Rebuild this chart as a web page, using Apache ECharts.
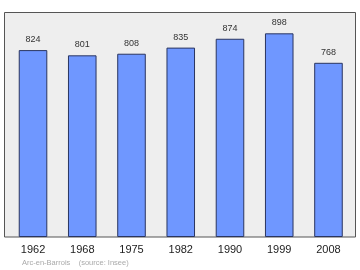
<!DOCTYPE html>
<html><head><meta charset="utf-8">
<script src="https://cdn.jsdelivr.net/npm/echarts@6/dist/echarts.min.js"></script>
<style>html,body{margin:0;padding:0;background:#fff}#c{width:360px;height:270px}</style>
</head><body><div id="c"></div>
<script>
var categories = ['1962','1968','1975','1982','1990','1999','2008'];
var population = [824, 801, 808, 835, 874, 898, 768];
var sourceText = 'Arc-en-Barrois    (source: Insee)';

var chart = echarts.init(document.getElementById('c'), null, {renderer:'canvas'});
chart.setOption({
  animation: false,
  backgroundColor: '#ffffff',
  graphic: [
    {type:'rect', z:-10, shape:{x:4.5, y:12.5, width:351, height:224.5},
     style:{fill:'#eeeeee', stroke:'#555555', lineWidth:1}},
    {type:'text', left:22, top:259, style:{text:sourceText, fill:'#aaaaaa', font:'7.5px "Liberation Sans", Arial, sans-serif'}}
  ],
  grid: {left:8.4, right:6.9, top:12, bottom:33, show:false},
  xAxis: {
    type:'category', data:categories,
    axisLine:{show:false}, axisTick:{show:false},
    axisLabel:{color:'#222', fontSize:11, fontFamily:'"Liberation Sans", Arial, sans-serif', margin:7}
  },
  yAxis: {type:'value', min:0, max:992, show:false, splitLine:{show:false}},
  series: [{
    type:'bar', data:population, barWidth:'58%',
    itemStyle:{color:'#6f97ff', borderColor:'#2a3560', borderWidth:1},
    label:{show:true, position:'top', distance:6, color:'#333', fontSize:9, fontFamily:'"Liberation Sans", Arial, sans-serif'}
  }]
});
</script></body></html>
